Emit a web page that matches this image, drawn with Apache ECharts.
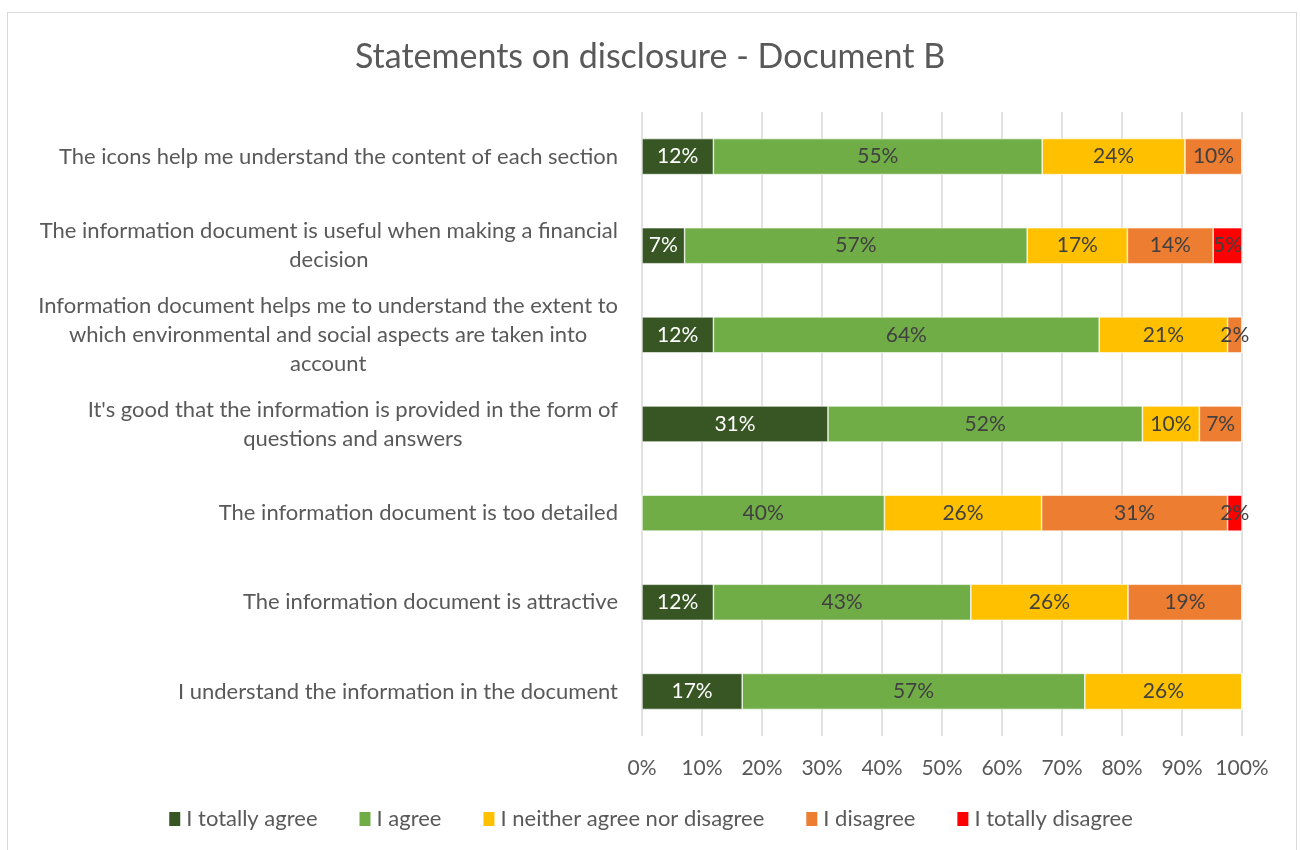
<!DOCTYPE html>
<html>
<head>
<meta charset="utf-8">
<title>Statements on disclosure - Document B</title>
<script src="https://cdn.jsdelivr.net/npm/echarts@6/dist/echarts.min.js"></script>
<style>
  html, body { margin: 0; padding: 0; background: #fff; }
  #frame { position: absolute; left: 7px; top: 12px; width: 1290px; height: 850px; border: 1px solid #d9d9d9; box-sizing: border-box; }
  #main { position: absolute; left: 0; top: 0; width: 1300px; height: 850px; }
</style>
</head>
<body>
<div id="frame"></div>
<div id="main"></div>
<script type="text/javascript">
  // statements, top to bottom
  var categories = [
    'The icons help me understand the content of each section',
    'The information document is useful when making a financial\ndecision',
    'Information document helps me to understand the extent to\nwhich environmental and social aspects are taken into\naccount',
    "It's good that the information is provided in the form of\nquestions and answers",
    'The information document is too detailed',
    'The information document is attractive',
    'I understand the information in the document'
  ];

  var seriesNames = ['I totally agree', 'I agree', 'I neither agree nor disagree', 'I disagree', 'I totally disagree'];
  var colors = ['#375623', '#70AD47', '#FFC000', '#ED7D31', '#FF0000'];

  // shares in percent
  var totallyAgree    = [11.9,  7.1, 11.9, 31.0,  0.0, 11.9, 16.7];
  var agree           = [54.8, 57.1, 64.3, 52.4, 40.4, 42.9, 57.1];
  var neither         = [23.8, 16.7, 21.4,  9.5, 26.2, 26.2, 26.2];
  var disagree        = [ 9.5, 14.3,  2.4,  7.1, 31.0, 19.0,  0.0];
  var totallyDisagree = [ 0.0,  4.8,  0.0,  0.0,  2.4,  0.0,  0.0];

  var xTicks = [0, 10, 20, 30, 40, 50, 60, 70, 80, 90, 100];

  var FONT = 'Lato';
  var myChart = echarts.init(document.getElementById('main'));

  var allData = [totallyAgree, agree, neither, disagree, totallyDisagree];
  var series = allData.map(function (d, i) {
    return {
      name: seriesNames[i],
      type: 'bar',
      stack: 'total',
      barWidth: 36,
      data: d,
      itemStyle: { color: colors[i], borderColor: '#ffffff', borderWidth: 0.6 },
      label: {
        show: true,
        position: 'inside',
        fontFamily: FONT,
        fontSize: 21,
        color: i === 0 ? '#ffffff' : '#404040',
        formatter: function (p) {
          return p.value > 0 ? Math.round(p.value) + '%' : '';
        }
      }
    };
  });

  var option = {
    animation: false,
    title: {
      text: 'Statements on disclosure - Document B',
      left: 'center',
      top: 35,
      textStyle: { fontFamily: FONT, fontSize: 34, fontWeight: 'normal', color: '#595959' }
    },
    legend: {
      bottom: 15,
      left: 'center',
      itemWidth: 13,
      itemHeight: 16,
      itemGap: 40,
      icon: 'rect',
      textStyle: { fontFamily: FONT, fontSize: 22, color: '#595959' },
      data: seriesNames
    },
    grid: { left: 642, right: 58, top: 112, bottom: 114, containLabel: false },
    xAxis: {
      type: 'value',
      min: xTicks[0],
      max: xTicks[xTicks.length - 1],
      interval: 10,
      axisLine: { show: false },
      axisTick: { show: false },
      splitLine: { lineStyle: { color: '#d9d9d9', width: 1.5 } },
      axisLabel: {
        margin: 22,
        fontFamily: FONT,
        fontSize: 21,
        color: '#595959',
        formatter: '{value}%'
      }
    },
    yAxis: {
      type: 'category',
      inverse: true,
      data: categories,
      axisLine: { show: false },
      axisTick: { show: false },
      axisLabel: {
        margin: 24,
        align: 'right',
        fontFamily: FONT,
        fontSize: 22,
        color: '#595959',
        formatter: function (v) {
          return v.split('\n').map(function (s) { return '{c|' + s + '}'; }).join('\n');
        },
        rich: {
          c: { align: 'center', fontFamily: FONT, fontSize: 22, color: '#595959', lineHeight: 29 }
        }
      }
    },
    series: series
  };

  myChart.setOption(option);
</script>
</body>
</html>
